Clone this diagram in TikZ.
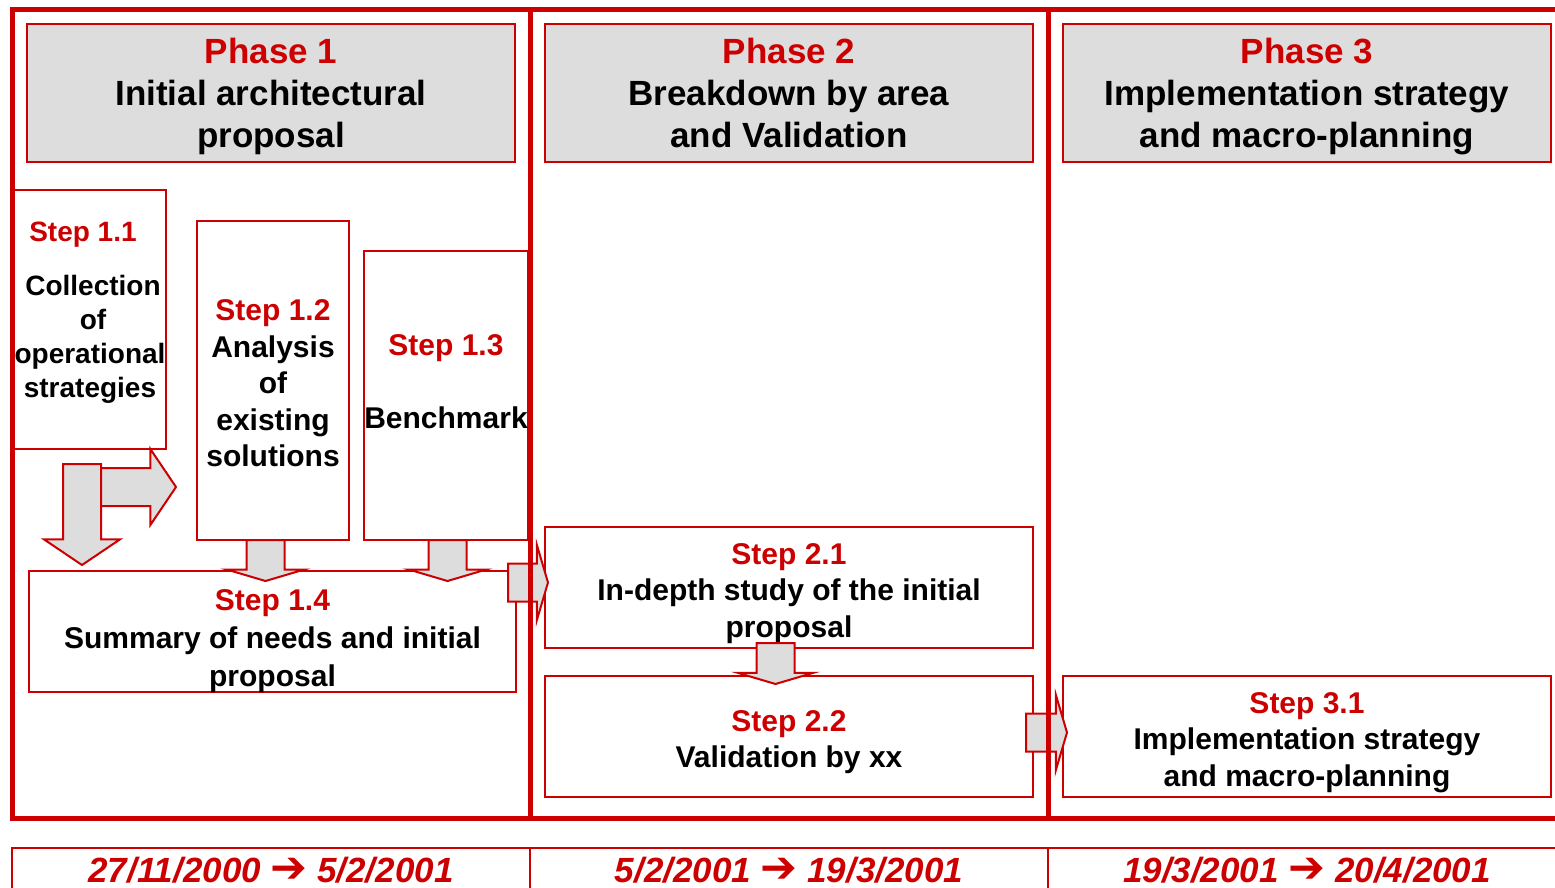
\documentclass[tikz,border=0pt]{standalone}
\usepackage{fontspec}
\setmainfont{Liberation Sans}
\newfontfamily\arrowfont{DejaVu Sans}
\usepackage{tikz}
\usetikzlibrary{shapes.arrows, positioning}
\usepackage{xcolor}

\definecolor{phred}{HTML}{CC0000}
\definecolor{boxgray}{HTML}{DDDDDD}
\newcommand{\steptitle}[1]{{\color{phred}#1}}
\newcommand{\lift}[1]{\rule{0pt}{#1}}
\newcommand{\datearrow}{{\arrowfont\fontsize{44}{42}\selectfont\mdseries\upshape ➔}}

\begin{document}
\begin{tikzpicture}[x=1pt, y=-1pt,
                phase/.style={draw=phred, line width=2pt, fill=boxgray, minimum width=488pt, minimum height=138pt,
                              inner sep=0pt, outer sep=0pt, text depth=0pt, align=center,
                              font=\fontsize{35}{42}\selectfont\bfseries},
                stepbox/.style={draw=phred, line width=2pt, fill=white, inner sep=0pt, outer sep=0pt, text depth=0pt,
                                align=center, font=\fontsize{30}{36.5}\selectfont\bfseries},
                datebox/.style={draw=phred, line width=2pt, minimum width=518pt, minimum height=52pt, inner sep=0pt,
                                text depth=8pt, text=phred, font=\fontsize{35}{42}\selectfont\bfseries\itshape},
                frame/.style={draw=phred, line width=5pt},
                blockarrow/.style={single arrow, draw=phred, fill=boxgray, line width=2pt, inner xsep=0pt, inner ysep=18pt,
                                   outer sep=0pt, minimum width=0pt, single arrow head extend=19pt, anchor=tail},
                flat/.style={single arrow tip angle=147},
                pointed/.style={single arrow tip angle=112}
                ]
    \useasboundingbox (0,0) rectangle (1555,888);
    \clip (0,0) rectangle (1555,888);

    % Phase headers
    \node[phase] (p1) at (271,93) {\steptitle{Phase 1}\\Initial architectural\\proposal};
    \node[phase] (p2) [right=30pt of p1] {\steptitle{Phase 2}\\Breakdown by area\\and Validation};
    \node[phase] (p3) [right=30pt of p2] {\steptitle{Phase 3}\\Implementation strategy\\and macro-planning};

    % Steps
    \node[stepbox, minimum width=152pt, minimum height=259pt, text depth=20pt, font=\fontsize{28}{34}\selectfont\bfseries]
        (s11) at (90,319.5)
        {\steptitle{Step 1.1}\hspace*{14pt}\\[20pt]\hspace*{6pt}Collection\\\hspace*{6pt}of\\operational\\strategies};
    \node[stepbox, minimum width=152pt, minimum height=319pt] (s12) at (273,380.5)
        {\lift{26pt}\steptitle{Step 1.2}\\Analysis\\of\\existing\\solutions};
    \node[stepbox, minimum width=164pt, minimum height=289pt, text depth=28pt] (s13) at (446,395.5)
        {\steptitle{Step 1.3}\\[36pt]Benchmark};
    \node[stepbox, minimum width=487pt, minimum height=121pt, font=\fontsize{30}{38}\selectfont\bfseries]
        (s14) at (272.5,631.5)
        {\lift{34pt}\steptitle{Step 1.4}\\Summary of needs and initial\\proposal};
    \node[stepbox, minimum width=488pt, minimum height=121pt] (s21) at (789,587.5)
        {\lift{26pt}\steptitle{Step 2.1}\\In-depth study of the initial\\proposal};
    \node[stepbox, minimum width=488pt, minimum height=121pt] (s22) [below=28pt of s21]
        {\lift{26pt}\steptitle{Step 2.2}\\Validation by xx};
    \node[stepbox, minimum width=488pt, minimum height=121pt] (s31) [right=30pt of s22]
        {\lift{26pt}\steptitle{Step 3.1}\\Implementation strategy\\and macro-planning};

    % Block arrows
    \node[blockarrow, pointed, minimum height=94pt] (a2) at ([xshift=-8pt, yshift=-38pt]s11.south) {};
    \node[blockarrow, pointed, rotate=-90, minimum height=101pt] (a1) at ([xshift=-8pt, yshift=-15pt]s11.south) {};
    \node[blockarrow, flat, rotate=-90, minimum height=41pt] (a3) at ([xshift=-7.5pt]s12.south) {};
    \node[blockarrow, flat, rotate=-90, minimum height=41pt] (a4) at ([xshift=1.5pt]s13.south) {};
    \node[blockarrow, flat, minimum height=40pt] (a5) at ([xshift=-8pt, yshift=-11.5pt]s14.north east) {};
    \node[blockarrow, flat, rotate=-90, minimum height=41pt] (a6) at ([xshift=-13.5pt, yshift=5pt]s21.south) {};
    \node[blockarrow, flat, minimum height=41pt] (a7) at ([xshift=-7pt, yshift=4pt]s22.east) {};

    % Phase frames
    \draw[frame] (12.5,10) rectangle (530,818);
    \draw[frame] (530,10) rectangle (1048,818);
    \draw[frame] (1048,10) rectangle (1580,818);

    % Dates
    \node[datebox] (d1) at (271,874) {27/11/2000 \datearrow\ 5/2/2001};
    \node[datebox] (d2) at (789,874) {5/2/2001 \datearrow\ 19/3/2001};
    \node[datebox, minimum width=540pt] (d3) at (1318,874) {\hspace*{-22pt}19/3/2001 \datearrow\ 20/4/2001};
\end{tikzpicture}
\end{document}
